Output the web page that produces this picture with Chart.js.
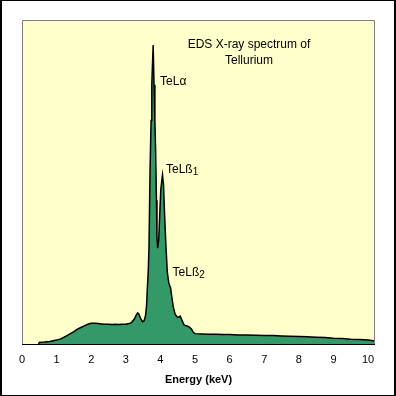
<!DOCTYPE html>
<html>
<head>
<meta charset="utf-8">
<script src="https://cdn.jsdelivr.net/npm/chart.js@4.4.0/dist/chart.umd.min.js"></script>
<style>
	html, body { margin: 0; padding: 0; background: #fff; }
	#box { width: 396px; height: 396px; }
</style>
</head>
<body>
<div id="box"><canvas id="spectrum" width="396" height="396"></canvas></div>
<script>
// spectrum (keV / relative counts)
const energyKeV = [0.48, 0.50, 0.65, 0.80, 0.90, 1.00, 1.10, 1.20, 1.30, 1.40, 1.50, 1.60, 1.70, 1.80, 1.90, 2.00, 2.10, 2.20, 2.30, 2.40, 2.50, 2.60, 2.70, 2.80, 2.90, 3.00, 3.10, 3.17, 3.25, 3.30, 3.34, 3.38, 3.43, 3.48, 3.53, 3.57, 3.60, 3.62, 3.65, 3.67, 3.70, 3.73, 3.75, 3.79, 3.815, 3.84, 3.86, 3.885, 3.90, 3.92, 3.95, 3.98, 4.01, 4.04, 4.06, 4.09, 4.12, 4.16, 4.20, 4.24, 4.27, 4.29, 4.33, 4.37, 4.42, 4.46, 4.50, 4.54, 4.57, 4.62, 4.68, 4.72, 4.76, 4.80, 4.84, 4.90, 4.95, 5.00, 5.20, 5.40, 5.60, 5.80, 6.00, 6.25, 6.50, 6.75, 7.00, 7.25, 7.50, 7.75, 8.00, 8.25, 8.50, 8.75, 9.00, 9.25, 9.50, 9.75, 10.00, 10.20];
const counts = [0, 0.5, 0.6, 0.8, 1.0, 1.2, 1.5, 2.0, 2.6, 3.2, 3.8, 4.6, 5.1, 5.6, 6.1, 6.4, 6.4, 6.3, 6.2, 6.1, 6.1, 6.0, 6.1, 6.0, 6.1, 6.1, 6.3, 6.7, 7.8, 8.9, 9.6, 9.2, 7.8, 6.9, 7.2, 8.8, 12.0, 16.7, 23.0, 30.0, 53.7, 69.0, 80.0, 92.3, 80.0, 69.0, 60.0, 44.4, 33.0, 29.6, 32.0, 40.0, 47.5, 50.5, 52.2, 49.0, 40.0, 30.0, 22.0, 19.0, 18.0, 17.5, 14.5, 11.5, 9.4, 8.6, 8.2, 8.4, 8.6, 7.4, 5.9, 5.7, 5.6, 5.4, 5.2, 4.6, 3.6, 3.2, 3.1, 3.0, 3.0, 2.9, 2.9, 2.8, 2.8, 2.7, 2.6, 2.6, 2.5, 2.4, 2.3, 2.2, 2.1, 2.0, 1.8, 1.7, 1.5, 1.4, 1.2, 0.9];
const energyTicks = [0, 1, 2, 3, 4, 5, 6, 7, 8, 9, 10];
const titleLines = ['EDS X-ray spectrum of', 'Tellurium'];
const peakNames = ['TeLα', 'TeLß', 'TeLß'];
const peakSubs = ['', '1', '2'];
const peakLabelE = [3.99, 4.16, 4.35];
const peakLabelY = [79.9, 52.8, 21.1];

const FONT = '"Liberation Sans", Arial, sans-serif';

class Spectrum {
	constructor (){
		const _ = this;

		_.init();
	}

	framePlugin(){
		return {
			id: 'frame',
			beforeDraw(chart){
				const ctx = chart.ctx;
				const a = chart.chartArea;
				ctx.save();
				ctx.fillStyle = '#ffffff';
				ctx.fillRect(0, 0, chart.width, chart.height);
				ctx.fillStyle = '#ffffcc';
				ctx.fillRect(a.left, a.top, a.right - a.left, a.bottom - a.top);
				ctx.restore();
			},
			afterDatasetsDraw(chart){
				const ctx = chart.ctx;
				const a = chart.chartArea;
				const x = chart.scales.x;
				const y = chart.scales.y;
				ctx.save();
				// plot border
				ctx.strokeStyle = '#808080';
				ctx.lineWidth = 1;
				ctx.beginPath();
				ctx.moveTo(a.left + 0.5, a.bottom);
				ctx.lineTo(a.left + 0.5, a.top + 0.5);
				ctx.lineTo(a.right - 0.5, a.top + 0.5);
				ctx.lineTo(a.right - 0.5, a.bottom);
				ctx.stroke();
				ctx.strokeStyle = '#000000';
				ctx.beginPath();
				ctx.moveTo(a.left, a.bottom + 0.5);
				ctx.lineTo(a.right, a.bottom + 0.5);
				ctx.stroke();

				// outer frame
				ctx.fillStyle = '#000000';
				ctx.fillRect(0, 0, 2, chart.height);
				ctx.fillRect(0, 0, chart.width, 1);
				ctx.fillRect(394, 0, 2, chart.height);
				ctx.fillRect(0, 395, chart.width, 1);

				// title inside plot
				ctx.font = '12px ' + FONT;
				ctx.textAlign = 'center';
				ctx.textBaseline = 'alphabetic';
				ctx.fillText(titleLines[0], 249, 48);
				ctx.fillText(titleLines[1], 249, 64);

				// peak labels
				ctx.textAlign = 'left';
				for (let i = 0; i < peakNames.length; i++) {
					let px = x.getPixelForValue(peakLabelE[i]);
					let py = y.getPixelForValue(peakLabelY[i]);
					ctx.font = '12px ' + FONT;
					ctx.fillText(peakNames[i], px, py);
					if (peakSubs[i]) {
						let w = ctx.measureText(peakNames[i]).width;
						ctx.font = '10px ' + FONT;
						ctx.fillText(peakSubs[i], px + w, py + 2);
					}
				}
				ctx.restore();
			}
		};
	}

	start(){
		const _ = this;
		const ctx = document.getElementById('spectrum');
		let points = [];
		for (let i = 0; i < energyKeV.length; i++) {
			points.push({x: energyKeV[i], y: counts[i]});
		}
		_.chart = new Chart(ctx, {
			type: 'line',
			data: {
				datasets: [{
					data: points,
					borderColor: '#000000',
					borderWidth: 1.5,
					backgroundColor: '#339966',
					fill: 'origin',
					pointRadius: 0,
					tension: 0
				}]
			},
			options: {
				responsive: false,
				animation: false,
				layout: {
					padding: {left: 22, right: 21, top: 20, bottom: 0}
				},
				plugins: {
					legend: {display: false},
					tooltip: {enabled: false}
				},
				scales: {
					x: {
						type: 'linear',
						min: 0,
						max: 10.2,
						afterBuildTicks: function (s){
							s.ticks = energyTicks.map(v => ({value: v}));
						},
						afterFit: function (s){
							s.height = 52;
						},
						grid: {display: false, drawTicks: false},
						border: {display: false},
						ticks: {
							padding: 9,
							color: '#000000',
							maxRotation: 0,
							autoSkip: false,
							font: {family: FONT, size: 11}
						},
						title: {
							display: true,
							text: 'Energy (keV)',
							color: '#000000',
							padding: {top: 0, bottom: 9},
							font: {family: FONT, size: 11, weight: 'bold'}
						}
					},
					y: {
						display: false,
						min: 0,
						max: 100
					}
				}
			},
			plugins: [_.framePlugin()]
		});
	}

	init(){
		const _ = this;
		_.start();
	}
}
new Spectrum();
</script>
</body>
</html>
